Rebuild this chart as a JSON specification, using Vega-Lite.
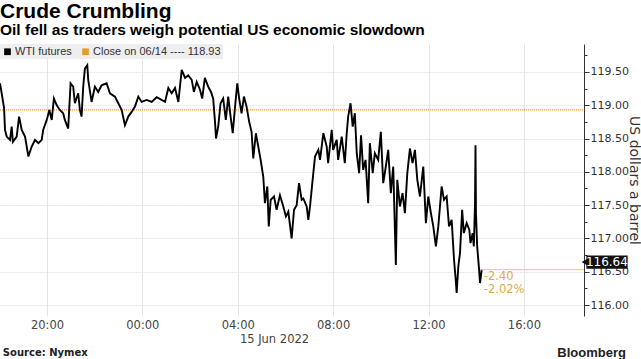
{
  "$schema": "https://vega.github.io/schema/vega-lite/v6.json",
  "width": 584,
  "height": 272,
  "autosize": {"type": "none"},
  "padding": {"left": 0, "top": 44, "right": 57, "bottom": 43},
  "background": "white",
  "config": {"view": {"stroke": null}, "font": "DejaVu Sans"},
  "title": {
    "text": "Crude Crumbling",
    "subtitle": "Oil fell as traders weigh potential US economic slowdown",
    "anchor": "start",
    "frame": "group",
    "font": "Liberation Sans",
    "fontSize": 21,
    "fontWeight": "bold",
    "color": "#000000",
    "subtitleFont": "Liberation Sans",
    "subtitleFontSize": 15.5,
    "subtitleFontWeight": "bold",
    "subtitleColor": "#000000",
    "subtitlePadding": 1,
    "offset": 6
  },
  "encoding": {
    "x": {
      "field": "t",
      "type": "quantitative",
      "scale": {"domain": [18.03, 42.52], "nice": false, "zero": false},
      "axis": {
        "values": [20, 24, 28, 32, 36, 40],
        "labelExpr": "((datum.value % 24) < 10 ? '0' : '') + (datum.value % 24) + ':00'",
        "title": null,
        "domain": false,
        "ticks": false,
        "grid": true,
        "gridColor": "#e4e4e4",
        "labelFont": "DejaVu Sans",
        "labelFontSize": 11.5,
        "labelColor": "#444444",
        "labelPadding": 3
      }
    },
    "y": {
      "field": "p",
      "type": "quantitative",
      "scale": {"domain": [115.835, 119.92], "nice": false, "zero": false},
      "axis": {
        "orient": "right",
        "values": [116, 116.25, 116.5, 116.75, 117, 117.25, 117.5, 117.75, 118, 118.25, 118.5, 118.75, 119, 119.25, 119.5, 119.75],
        "labelExpr": "(datum.value * 4) % 2 == 0 ? format(datum.value, '.2f') : ''",
        "tickSize": {"condition": {"test": "(datum.value * 4) % 2 == 0", "value": 5}, "value": 3},
        "gridOpacity": {"condition": {"test": "(datum.value * 4) % 2 == 0", "value": 1}, "value": 0},
        "gridColor": "#e4e4e4",
        "gridDash": [2, 1],
        "domainColor": "#333333",
        "tickColor": "#333333",
        "labelFont": "DejaVu Sans",
        "labelFontSize": 11,
        "labelColor": "#333333",
        "labelPadding": 1,
        "title": "US dollars a barrel",
        "titleFont": "DejaVu Sans",
        "titleFontSize": 14,
        "titleFontWeight": "normal",
        "titleColor": "#333333",
        "titleAngle": 90,
        "titleX": 49,
        "titleY": 136,
        "titleAlign": "center",
        "titleBaseline": "middle"
      }
    }
  },
  "datasets": {
    "wti": [
      {"t": 18.03, "p": 119.33}, {"t": 18.10, "p": 119.18}, {"t": 18.20, "p": 118.96}, {"t": 18.24, "p": 118.63},
      {"t": 18.31, "p": 118.53}, {"t": 18.45, "p": 118.48}, {"t": 18.52, "p": 118.68}, {"t": 18.57, "p": 118.45},
      {"t": 18.73, "p": 118.53}, {"t": 18.83, "p": 118.83}, {"t": 18.94, "p": 118.63}, {"t": 19.08, "p": 118.53},
      {"t": 19.22, "p": 118.23}, {"t": 19.36, "p": 118.38}, {"t": 19.50, "p": 118.48}, {"t": 19.64, "p": 118.43},
      {"t": 19.78, "p": 118.48}, {"t": 19.84, "p": 118.63}, {"t": 19.99, "p": 118.78}, {"t": 20.10, "p": 118.93},
      {"t": 20.20, "p": 118.78}, {"t": 20.29, "p": 119.10}, {"t": 20.41, "p": 119.00}, {"t": 20.54, "p": 118.93},
      {"t": 20.68, "p": 118.88}, {"t": 20.75, "p": 118.78}, {"t": 20.89, "p": 118.65}, {"t": 20.99, "p": 119.33},
      {"t": 21.10, "p": 119.28}, {"t": 21.17, "p": 119.03}, {"t": 21.31, "p": 119.18}, {"t": 21.38, "p": 118.93},
      {"t": 21.45, "p": 118.83}, {"t": 21.52, "p": 119.28}, {"t": 21.59, "p": 119.55}, {"t": 21.69, "p": 119.60},
      {"t": 21.73, "p": 119.38}, {"t": 21.87, "p": 119.05}, {"t": 22.01, "p": 119.28}, {"t": 22.15, "p": 119.20},
      {"t": 22.29, "p": 119.30}, {"t": 22.50, "p": 119.33}, {"t": 22.64, "p": 119.18}, {"t": 22.85, "p": 119.13},
      {"t": 22.99, "p": 119.03}, {"t": 23.13, "p": 118.93}, {"t": 23.27, "p": 118.70}, {"t": 23.41, "p": 118.83},
      {"t": 23.55, "p": 118.90}, {"t": 23.69, "p": 118.98}, {"t": 23.83, "p": 119.13}, {"t": 23.97, "p": 119.05},
      {"t": 24.18, "p": 119.08}, {"t": 24.39, "p": 119.05}, {"t": 24.60, "p": 119.12}, {"t": 24.95, "p": 119.05},
      {"t": 25.09, "p": 119.26}, {"t": 25.23, "p": 119.18}, {"t": 25.37, "p": 119.26}, {"t": 25.51, "p": 119.05},
      {"t": 25.65, "p": 119.53}, {"t": 25.79, "p": 119.41}, {"t": 25.92, "p": 119.45}, {"t": 26.07, "p": 119.38},
      {"t": 26.16, "p": 119.20}, {"t": 26.28, "p": 119.35}, {"t": 26.42, "p": 119.23}, {"t": 26.51, "p": 119.10},
      {"t": 26.62, "p": 119.41}, {"t": 26.76, "p": 119.28}, {"t": 26.88, "p": 119.20}, {"t": 26.97, "p": 119.10},
      {"t": 27.04, "p": 118.78}, {"t": 27.09, "p": 118.50}, {"t": 27.18, "p": 118.68}, {"t": 27.28, "p": 119.03},
      {"t": 27.39, "p": 119.10}, {"t": 27.50, "p": 118.78}, {"t": 27.60, "p": 119.13}, {"t": 27.70, "p": 118.83},
      {"t": 27.79, "p": 118.58}, {"t": 27.88, "p": 118.95}, {"t": 27.98, "p": 119.33}, {"t": 28.06, "p": 119.10},
      {"t": 28.16, "p": 118.88}, {"t": 28.26, "p": 119.13}, {"t": 28.37, "p": 118.98}, {"t": 28.48, "p": 118.75},
      {"t": 28.58, "p": 118.60}, {"t": 28.65, "p": 118.20}, {"t": 28.76, "p": 118.58}, {"t": 28.86, "p": 118.38},
      {"t": 28.96, "p": 118.18}, {"t": 29.07, "p": 117.93}, {"t": 29.14, "p": 117.53}, {"t": 29.24, "p": 117.78},
      {"t": 29.30, "p": 117.18}, {"t": 29.38, "p": 117.58}, {"t": 29.52, "p": 117.63}, {"t": 29.63, "p": 117.43},
      {"t": 29.77, "p": 117.65}, {"t": 29.91, "p": 117.48}, {"t": 30.02, "p": 117.33}, {"t": 30.12, "p": 117.40},
      {"t": 30.26, "p": 117.00}, {"t": 30.36, "p": 117.43}, {"t": 30.47, "p": 117.50}, {"t": 30.57, "p": 117.83},
      {"t": 30.68, "p": 117.58}, {"t": 30.75, "p": 117.60}, {"t": 30.89, "p": 117.48}, {"t": 30.96, "p": 117.28},
      {"t": 31.03, "p": 117.48}, {"t": 31.14, "p": 117.88}, {"t": 31.24, "p": 118.23}, {"t": 31.38, "p": 118.33},
      {"t": 31.45, "p": 118.18}, {"t": 31.59, "p": 118.58}, {"t": 31.73, "p": 118.38}, {"t": 31.79, "p": 118.13},
      {"t": 31.94, "p": 118.63}, {"t": 32.00, "p": 118.33}, {"t": 32.15, "p": 118.48}, {"t": 32.21, "p": 118.18},
      {"t": 32.36, "p": 118.53}, {"t": 32.49, "p": 118.13}, {"t": 32.57, "p": 118.58}, {"t": 32.63, "p": 118.83},
      {"t": 32.73, "p": 119.03}, {"t": 32.82, "p": 118.68}, {"t": 32.91, "p": 118.88}, {"t": 32.99, "p": 118.28},
      {"t": 33.09, "p": 117.98}, {"t": 33.17, "p": 118.55}, {"t": 33.26, "p": 118.03}, {"t": 33.36, "p": 118.18},
      {"t": 33.47, "p": 117.53}, {"t": 33.54, "p": 118.43}, {"t": 33.66, "p": 117.98}, {"t": 33.75, "p": 118.28},
      {"t": 33.89, "p": 118.18}, {"t": 34.00, "p": 118.60}, {"t": 34.10, "p": 117.83}, {"t": 34.21, "p": 118.08},
      {"t": 34.31, "p": 118.33}, {"t": 34.42, "p": 117.68}, {"t": 34.52, "p": 118.08}, {"t": 34.63, "p": 116.60},
      {"t": 34.69, "p": 117.88}, {"t": 34.80, "p": 117.48}, {"t": 34.91, "p": 117.68}, {"t": 35.01, "p": 117.38},
      {"t": 35.11, "p": 117.98}, {"t": 35.22, "p": 118.35}, {"t": 35.33, "p": 118.13}, {"t": 35.43, "p": 118.33},
      {"t": 35.53, "p": 117.88}, {"t": 35.64, "p": 117.63}, {"t": 35.78, "p": 118.08}, {"t": 35.89, "p": 117.23},
      {"t": 35.99, "p": 117.63}, {"t": 36.10, "p": 117.38}, {"t": 36.20, "p": 117.18}, {"t": 36.31, "p": 116.88},
      {"t": 36.41, "p": 117.18}, {"t": 36.55, "p": 117.78}, {"t": 36.65, "p": 117.58}, {"t": 36.76, "p": 117.63},
      {"t": 36.86, "p": 117.18}, {"t": 36.97, "p": 117.28}, {"t": 37.07, "p": 116.68}, {"t": 37.14, "p": 116.38},
      {"t": 37.18, "p": 116.18}, {"t": 37.25, "p": 116.58}, {"t": 37.32, "p": 116.78}, {"t": 37.41, "p": 117.43},
      {"t": 37.48, "p": 117.08}, {"t": 37.60, "p": 117.23}, {"t": 37.71, "p": 117.13}, {"t": 37.76, "p": 116.93},
      {"t": 37.85, "p": 117.08}, {"t": 37.90, "p": 116.88}, {"t": 37.95, "p": 117.53}, {"t": 37.97, "p": 118.40},
      {"t": 37.99, "p": 117.38}, {"t": 38.04, "p": 116.88}, {"t": 38.11, "p": 116.58}, {"t": 38.16, "p": 116.33},
      {"t": 38.23, "p": 116.53}
    ]
  },
  "layer": [
    {
      "data": {"values": [{"t": 18.03, "t2": 42.52, "p": 118.93, "series": "Close on 06/14 ---- 118.93"}]},
      "mark": {"type": "rule", "strokeDash": [1, 1], "strokeWidth": 1.3},
      "encoding": {
        "x2": {"field": "t2"},
        "color": {
          "field": "series",
          "type": "nominal",
          "scale": {"domain": ["WTI futures", "Close on 06/14 ---- 118.93"], "range": ["#000000", "#e39b2b"]},
          "legend": {
            "title": null,
            "orient": "top-left",
            "offset": 0,
            "direction": "horizontal",
            "fillColor": "#eeeeee",
            "padding": 2,
            "symbolType": "square",
            "symbolSize": 45,
            "labelFont": "Liberation Sans",
            "labelFontSize": 11,
            "labelColor": "#333333",
            "labelOffset": 2,
            "columnPadding": 8,
            "encode": {"symbols": {"update": {"fill": {"scale": "color", "field": "value"}, "strokeWidth": {"value": 0}, "opacity": {"value": 1}}}}
          }
        }
      }
    },
    {
      "data": {"name": "wti"},
      "transform": [{"calculate": "'WTI futures'", "as": "series"}],
      "mark": {"type": "line", "strokeWidth": 1.9, "strokeJoin": "miter"},
      "encoding": {
        "color": {"field": "series", "type": "nominal"}
      }
    },
    {
      "data": {"values": [{"t": 38.23, "t2": 42.52, "p": 116.53}]},
      "mark": {"type": "rule", "color": "#eccf9c", "strokeWidth": 1.2},
      "encoding": {"x2": {"field": "t2"}}
    },
    {
      "data": {"values": [{"t": 38.32, "p": 116.42, "label": "-2.40"}, {"t": 38.32, "p": 116.225, "label": "-2.02%"}]},
      "mark": {"type": "text", "align": "left", "baseline": "middle", "color": "#e0a94e", "font": "DejaVu Sans", "fontSize": 11.5},
      "encoding": {"text": {"field": "label"}}
    },
    {
      "data": {"values": [{"t": 42.62, "t2": 44.35, "p": 116.745, "p2": 116.545}]},
      "mark": {"type": "rect", "color": "#111111"},
      "encoding": {"x2": {"field": "t2"}, "y2": {"field": "p2"}}
    },
    {
      "data": {"values": [{"t": 42.56, "p": 116.645}]},
      "mark": {"type": "point", "shape": "triangle-left", "filled": true, "color": "#111111", "size": 60, "opacity": 1},
      "encoding": {}
    },
    {
      "data": {"values": [{"t": 43.48, "p": 116.645, "label": "116.64"}]},
      "mark": {"type": "text", "align": "center", "baseline": "middle", "color": "#ffffff", "font": "DejaVu Sans", "fontSize": 12},
      "encoding": {"text": {"field": "label"}}
    },
    {
      "data": {"values": [{"t": 28.09, "p": 115.47, "label": "15 Jun 2022"}]},
      "mark": {"type": "text", "align": "left", "baseline": "middle", "color": "#444444", "font": "DejaVu Sans", "fontSize": 11.5},
      "encoding": {"text": {"field": "label"}}
    },
    {
      "data": {"values": [{"t": 18.15, "p": 115.28, "label": "Source: Nymex"}]},
      "mark": {"type": "text", "align": "left", "baseline": "middle", "color": "#222222", "font": "DejaVu Sans", "fontWeight": "bold", "fontSize": 10},
      "encoding": {"text": {"field": "label"}}
    },
    {
      "data": {"values": [{"t": 44.28, "p": 115.28, "label": "Bloomberg"}]},
      "mark": {"type": "text", "align": "right", "baseline": "middle", "color": "#222222", "font": "Liberation Sans", "fontWeight": "bold", "fontSize": 13},
      "encoding": {"text": {"field": "label"}}
    }
  ]
}
